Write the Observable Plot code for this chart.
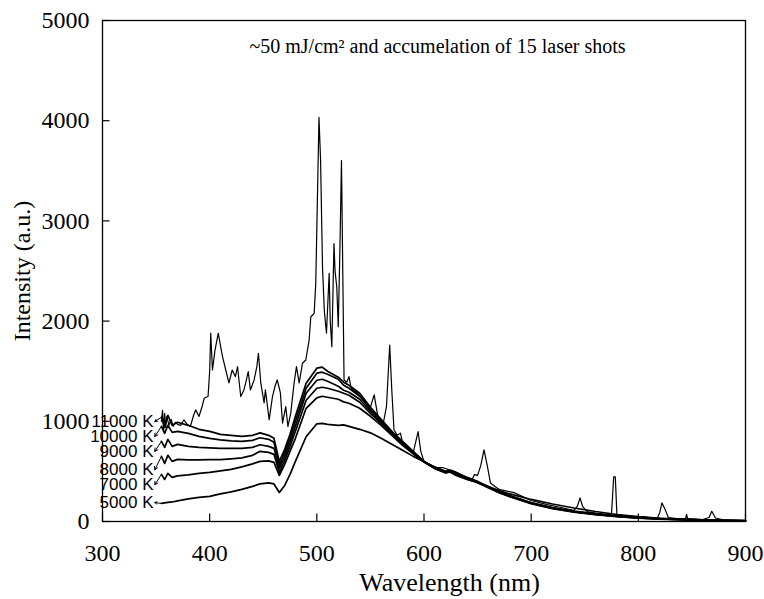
<!DOCTYPE html>
<html>
<head>
<meta charset="utf-8">
<script src="https://cdn.jsdelivr.net/npm/d3@7"></script>
<script src="https://cdn.jsdelivr.net/npm/@observablehq/plot@0.6"></script>
<style>
  html, body { margin: 0; padding: 0; background: #fff; }
  #chart svg { display: block; }
</style>
</head>
<body>
<div id="chart"></div>
<script>
// ---- data ----
const xTicks = [300, 400, 500, 600, 700, 800, 900];
const yTicks = [0, 1000, 2000, 3000, 4000, 5000];

const curveWl = [355, 358, 361, 365, 370, 380, 390, 400, 410, 420, 430, 440, 447, 455, 460, 465, 470, 475, 480, 490, 500, 505, 510, 520, 525, 530, 540, 550, 560, 570, 580, 590, 600, 610, 620, 625, 630, 640, 650, 660, 670, 680, 700, 720, 740, 760, 780, 800, 820, 850, 880, 900];

const t11000 = [1040, 940, 1060, 960, 990, 960, 920, 900, 870, 860, 850, 860, 885, 860, 830, 600, 720, 870, 1050, 1380, 1530, 1540, 1500, 1440, 1390, 1360, 1280, 1140, 1020, 900, 800, 700, 600, 540, 500, 510, 490, 440, 400, 350, 300, 260, 190, 140, 105, 80, 60, 40, 30, 20, 12, 10];
const t10000 = [950, 880, 960, 890, 900, 880, 850, 830, 815, 805, 800, 810, 836, 820, 790, 560, 690, 830, 1000, 1330, 1480, 1490, 1470, 1420, 1360, 1330, 1250, 1120, 1010, 890, 790, 690, 600, 535, 495, 505, 485, 435, 395, 345, 295, 255, 185, 135, 100, 75, 55, 38, 28, 18, 12, 8];
const t9000 = [800, 740, 820, 750, 770, 750, 740, 735, 730, 730, 730, 740, 766, 750, 730, 530, 650, 790, 950, 1280, 1410, 1420, 1400, 1350, 1310, 1290, 1220, 1100, 995, 880, 780, 685, 597, 532, 490, 500, 480, 430, 392, 342, 292, 252, 182, 132, 98, 72, 52, 36, 26, 16, 10, 7];
const t8000 = [650, 580, 660, 600, 620, 615, 615, 617, 617, 625, 635, 660, 700, 690, 670, 490, 610, 750, 900, 1210, 1330, 1340, 1330, 1300, 1280, 1260, 1190, 1080, 980, 870, 770, 680, 595, 530, 488, 498, 478, 428, 390, 340, 290, 250, 180, 130, 96, 70, 50, 35, 25, 15, 10, 6];
const t7000 = [470, 420, 480, 440, 455, 465, 480, 490, 505, 520, 545, 575, 600, 605, 590, 460, 570, 700, 830, 1130, 1234, 1250, 1240, 1220, 1194, 1180, 1130, 1050, 960, 860, 760, 675, 593, 528, 486, 495, 475, 425, 388, 338, 288, 248, 178, 128, 94, 68, 48, 34, 24, 14, 9, 5];
const t5000 = [180, 185, 190, 195, 205, 225, 240, 250, 275, 295, 320, 350, 375, 385, 375, 290, 360, 470, 600, 846, 975, 980, 970, 960, 965, 950, 920, 885, 830, 770, 710, 650, 597, 545, 500, 490, 460, 420, 390, 350, 310, 275, 220, 175, 135, 100, 70, 50, 32, 18, 10, 6];

const tempLabels = ["11000 K", "10000 K", "9000 K", "8000 K", "7000 K", "5000 K"];
const tempLabelY = [998, 849, 700, 517, 368, 189];

const specWl = [355, 356, 357, 358, 359, 360, 362, 364, 366, 368, 370, 373, 376, 379, 382, 385, 387, 390, 393, 395, 398.5, 400, 401, 402.6, 405, 408, 410, 412, 415, 418, 421, 424, 426, 429, 432, 434, 436, 438, 441.5, 444, 445.5, 447.7, 450.8, 452, 455.5, 458.6, 461, 463, 465, 466, 468, 471, 473, 475.7, 478.8, 481, 483.5, 486.6, 489.7, 492.8, 494.4, 497.5, 499, 500.5, 502, 503.5, 505.3, 507, 509, 511.5, 512.5, 514, 516, 517, 518.6, 520, 521.5, 523, 524.2, 525.4, 528, 530, 532, 538, 545, 550, 553.5, 557.5, 562, 565, 568, 570, 572, 575, 578, 580, 585, 590, 594.5, 597, 600, 610, 618, 625, 630, 640, 645, 647, 650, 653, 656, 659, 662, 670, 684, 700, 715, 730, 740, 743, 745.6, 748, 752, 760, 770, 775, 777, 778.5, 780, 790, 800, 805, 810, 818, 820, 822, 825, 828, 840, 844, 845, 846, 860, 866, 868.5, 872, 880, 890, 900];
const specI = [1000, 1110, 900, 1080, 940, 1050, 960, 1020, 950, 990, 970, 960, 1015, 970, 948, 1060, 1114, 1048, 1150, 1233, 1247, 1500, 1879, 1512, 1711, 1879, 1760, 1645, 1512, 1383, 1512, 1446, 1545, 1247, 1313, 1400, 1495, 1313, 1413, 1545, 1679, 1383, 1184, 1313, 1015, 1247, 1350, 1413, 1330, 1280, 982, 1147, 948, 1084, 1383, 1545, 1383, 1579, 1612, 1811, 2043, 2077, 2378, 3200, 4033, 3600, 2540, 2100, 1879, 2477, 2000, 1744, 2773, 2500, 2342, 1943, 2700, 3602, 2500, 1413, 1390, 1446, 1330, 1280, 1200, 1140, 1264, 1015, 980, 1150, 1761, 1300, 915, 860, 882, 786, 720, 690, 898, 700, 600, 540, 537, 510, 490, 440, 420, 468, 460, 560, 716, 560, 385, 320, 288, 210, 169, 135, 110, 150, 236, 150, 100, 85, 70, 80, 445, 445, 70, 55, 42, 50, 40, 40, 90, 186, 120, 40, 25, 30, 70, 30, 20, 40, 102, 35, 15, 12, 10];

// ---- build tables ----
const series = [t11000, t10000, t9000, t8000, t7000, t5000];
const curveRows = series.flatMap((vals, i) => vals.map((v, j) => ({wl: curveWl[j], I: v, T: tempLabels[i]})));
const specRows = specWl.map((w, j) => ({wl: w, I: specI[j]}));
const labelRows = tempLabels.map((t, i) => ({t, x: 347.6, y: tempLabelY[i], x1: curveWl[0], y1: series[i][0]}));

const chart = Plot.plot({
  width: 764,
  height: 599,
  marginLeft: 102,
  marginRight: 19,
  marginTop: 20,
  marginBottom: 78,
  x: {domain: [300, 900]},
  y: {domain: [0, 5000]},
  style: {fontFamily: "'Liberation Serif', 'Times New Roman', serif", background: "#fff", color: "#000"},
  marks: [
    Plot.axisX({ticks: xTicks, tickSize: 0, tickPadding: 22, fontSize: 24, tickFormat: d => String(d), label: null}),
    Plot.axisY({ticks: yTicks, tickSize: 0, tickPadding: 13, fontSize: 24, tickFormat: d => String(d), label: null}),
    Plot.ruleX(xTicks, {y1: 0, y2: 75, stroke: "#000", strokeWidth: 1.2}),
    Plot.ruleY(yTicks, {x1: 300, x2: 307, stroke: "#000", strokeWidth: 1.2}),
    Plot.line(curveRows, {x: "wl", y: "I", z: "T", stroke: "#000", strokeWidth: 1.7, curve: "linear"}),
    Plot.line(specRows, {x: "wl", y: "I", stroke: "#000", strokeWidth: 1.2}),
    Plot.arrow(labelRows, {x1: "x1", y1: "y1", x2: d => d.x + 1.2, y2: "y", stroke: "#000", strokeWidth: 1, headLength: 5}),
    Plot.text(labelRows, {x: "x", y: "y", text: "t", textAnchor: "end", fontSize: 17, fontFamily: "'Liberation Sans', Arial, sans-serif", fill: "#000"}),
    Plot.text(["~50 mJ/cm\u00B2 and accumelation of 15 laser shots"], {x: 612.6, y: 4744, text: d => d, fontSize: 20, fill: "#000"}),
    Plot.text(["Wavelength (nm)"], {x: 623.8, y: -609, text: d => d, fontSize: 26, fill: "#000"}),
    Plot.text(["Intensity (a.u.)"], {x: 225.4, y: 2500, text: d => d, fontSize: 24, rotate: -90, fill: "#000"}),
    Plot.frame({stroke: "#000", strokeWidth: 1.3})
  ]
});
document.getElementById("chart").appendChild(chart);
</script>
</body>
</html>
